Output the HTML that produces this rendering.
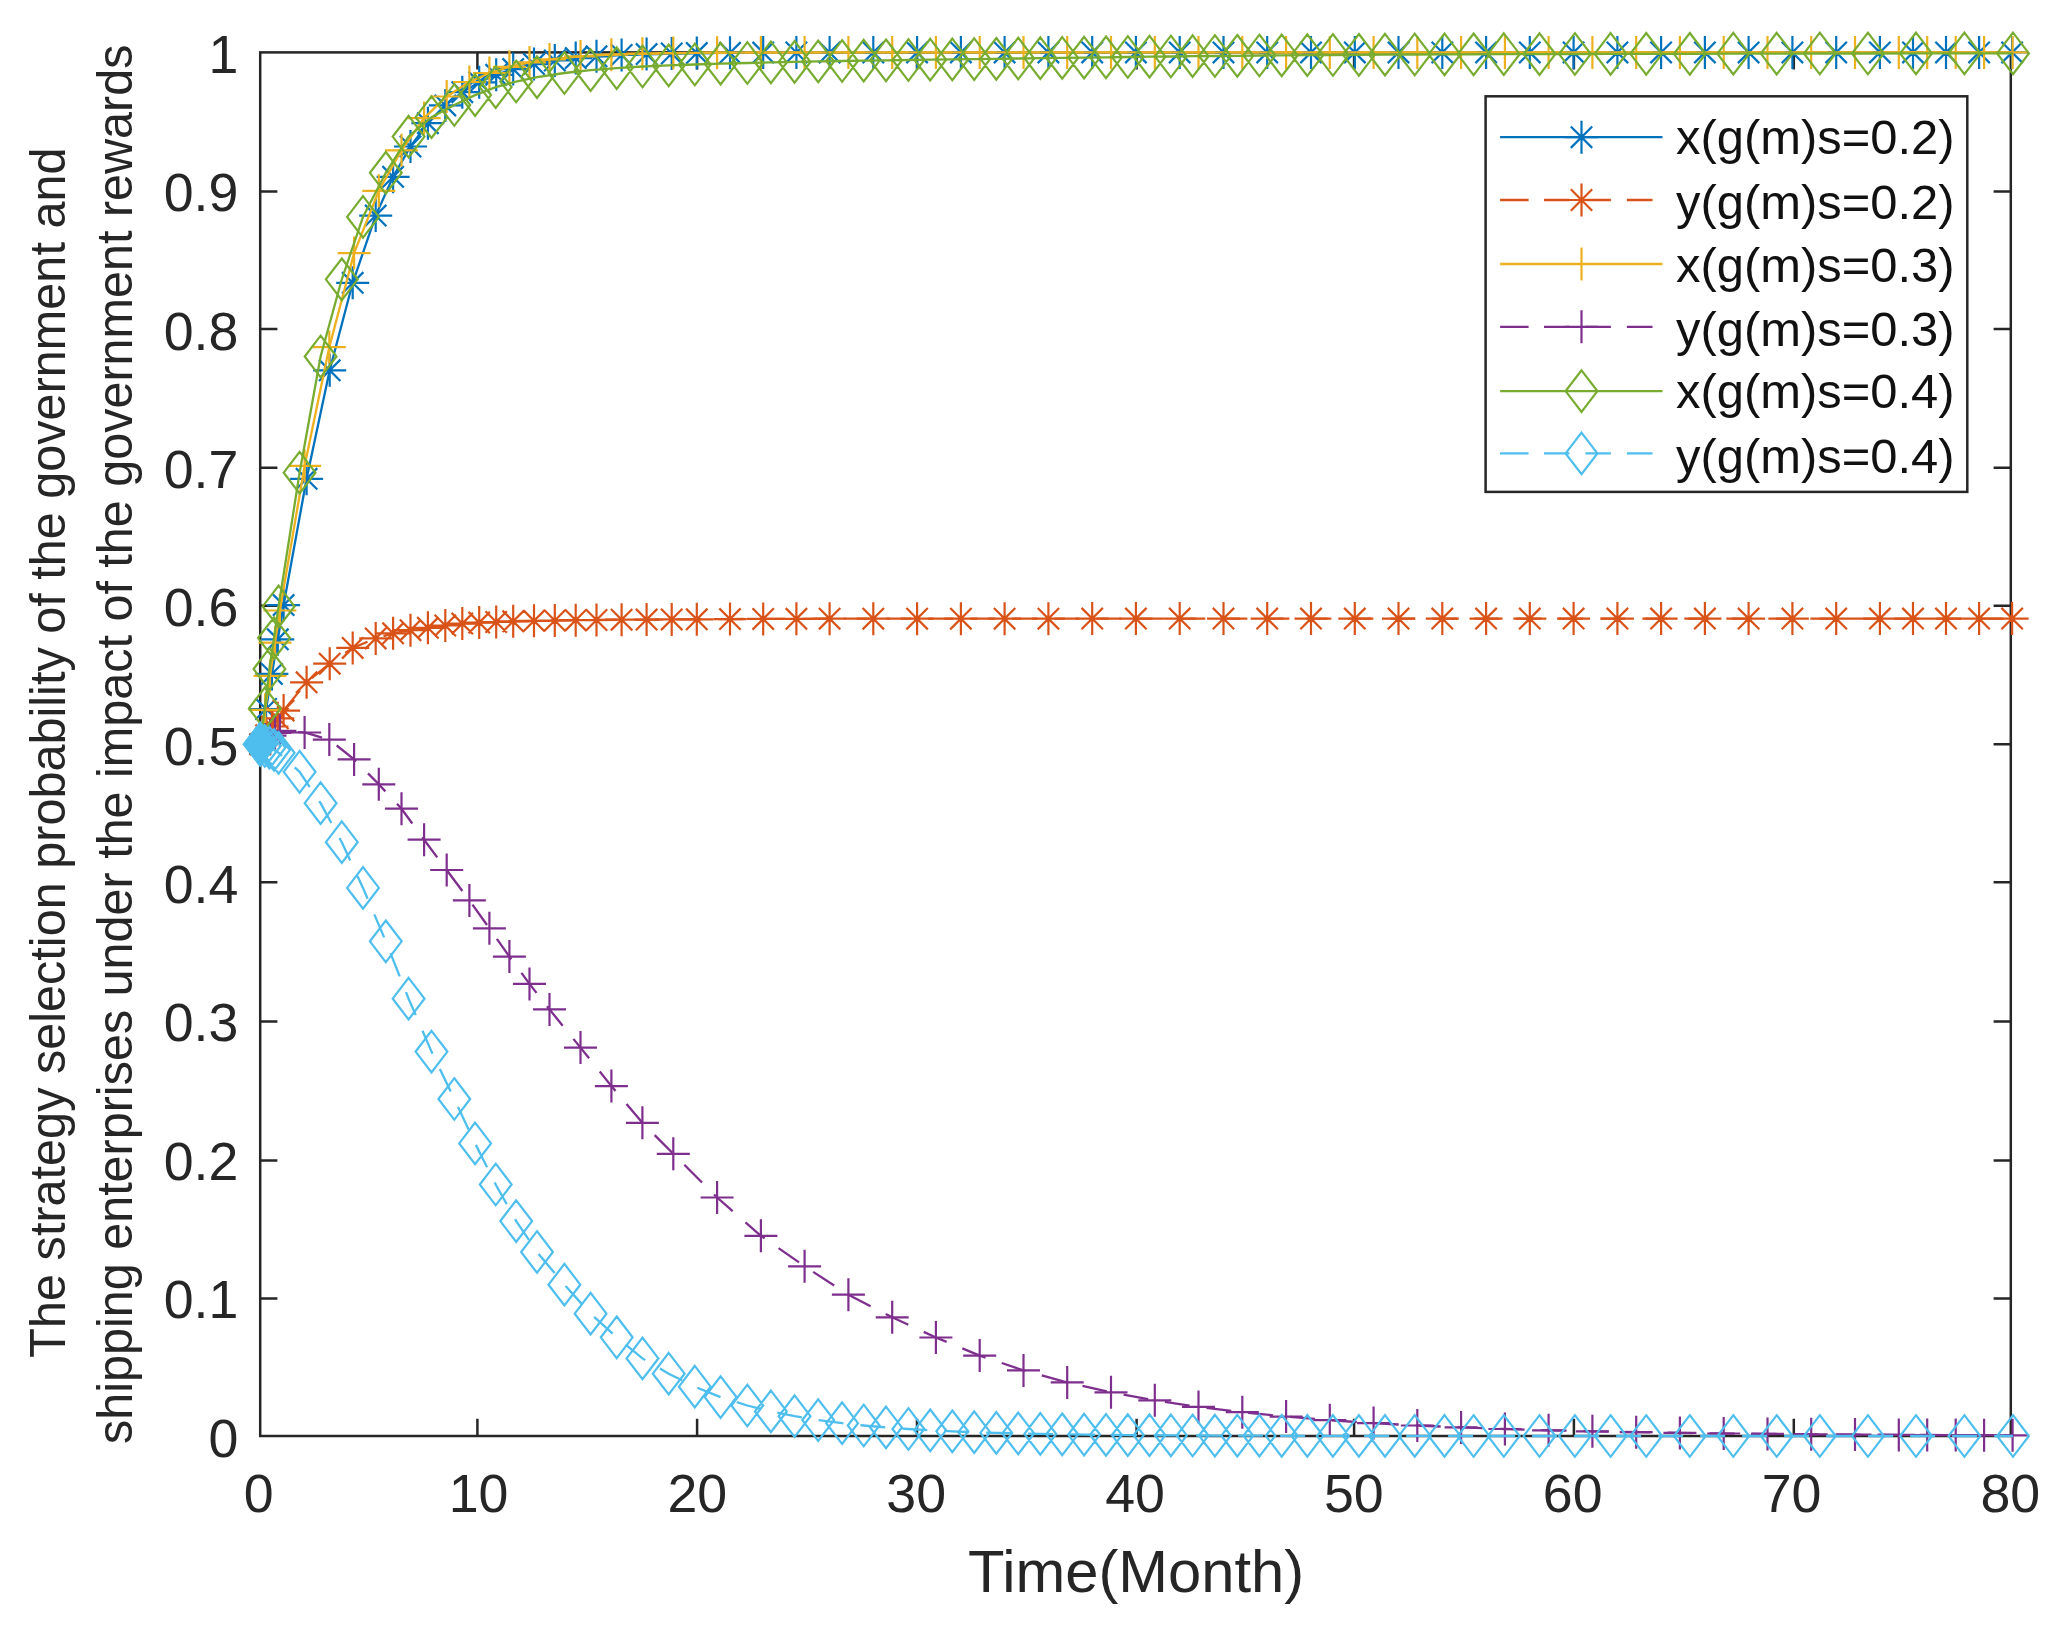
<!DOCTYPE html>
<html lang="en">
<head>
<meta charset="utf-8">
<title>Strategy selection probability under government rewards</title>
<style>
html,body{margin:0;padding:0;background:#ffffff;}
body{width:2052px;height:1631px;overflow:hidden;}
svg{display:block;}
</style>
</head>
<body>
<svg width="2052" height="1631" viewBox="0 0 2052 1631" font-family="'Liberation Sans', sans-serif">
<rect x="0" y="0" width="2052" height="1631" fill="#ffffff"/>
<g stroke="#262626" stroke-width="2.5" fill="none" stroke-linecap="butt">
<rect x="260.2" y="52.4" width="1750.6" height="1383.6"/>
<path d="M477.4 1436v-17.2M477.4 52.4v17.2M697.1 1436v-17.2M697.1 52.4v17.2M917 1436v-17.2M917 52.4v17.2M1136.6 1436v-17.2M1136.6 52.4v17.2M1354.1 1436v-17.2M1354.1 52.4v17.2M1573.9 1436v-17.2M1573.9 52.4v17.2M1793.8 1436v-17.2M1793.8 52.4v17.2M260.2 1298.4h17.2M2010.8 1298.4h-17.2M260.2 1160.6h17.2M2010.8 1160.6h-17.2M260.2 1021.6h17.2M2010.8 1021.6h-17.2M260.2 882.2h17.2M2010.8 882.2h-17.2M260.2 744.2h17.2M2010.8 744.2h-17.2M260.2 605.8h17.2M2010.8 605.8h-17.2M260.2 467.8h17.2M2010.8 467.8h-17.2M260.2 329h17.2M2010.8 329h-17.2M260.2 191.4h17.2M2010.8 191.4h-17.2"/>
</g>
<g fill="#262626" font-size="53.7">
<g text-anchor="middle">
<text x="258.7" y="1512">0</text>
<text x="478.5" y="1512">10</text>
<text x="697.3" y="1512">20</text>
<text x="916.2" y="1512">30</text>
<text x="1135" y="1512">40</text>
<text x="1353.8" y="1512">50</text>
<text x="1572.7" y="1512">60</text>
<text x="1791.5" y="1512">70</text>
<text x="2010.3" y="1512">80</text>
</g>
<g text-anchor="end">
<text x="238.4" y="1456.5">0</text>
<text x="238.4" y="1318.1">0.1</text>
<text x="238.4" y="1179.8">0.2</text>
<text x="238.4" y="1041.4">0.3</text>
<text x="238.4" y="903.1">0.4</text>
<text x="238.4" y="764.7">0.5</text>
<text x="238.4" y="626.3">0.6</text>
<text x="238.4" y="488">0.7</text>
<text x="238.4" y="349.6">0.8</text>
<text x="238.4" y="211.3">0.9</text>
<text x="238.4" y="72.9">1</text>
</g>
</g>
<text transform="translate(1136 1592) scale(1.012 1)" font-size="59.0" fill="#262626" text-anchor="middle">Time(Month)</text>
<g font-size="50.0" fill="#262626" text-anchor="middle">
<text transform="translate(64.9 752.6) rotate(-90) scale(0.972 1)">The strategy selection probability of the government and</text>
<text transform="translate(132 744.3) rotate(-90) scale(0.9705 1)">shipping enterprises under the impact of the government rewards</text>
</g>
<g stroke="#0072BD" fill="none" stroke-width="2.3">
<path d="M260.2 744.2L266.1 709L271.9 673.9L277.8 639.3L283.6 605.1L306.6 478.8L329.7 370.3L352.7 282.8L375.7 215.6L393.1 176.8L410.5 146.5L427.9 123.2L445.3 105.4L462.3 92.2L479.2 82.3L496.2 74.8L513.2 69.1L534 64.1L554.8 60.5L575.7 58.1L596.5 56.3L621.6 55L646.6 54.1L671.7 53.5L696.8 53.1L730 52.8L763.2 52.6L796.4 52.5L829.6 52.5L873.3 52.4L917.1 52.4L960.9 52.4L1004.6 52.4L1048.4 52.4L1092.2 52.4L1135.9 52.4L1179.7 52.4L1223.5 52.4L1267.2 52.4L1311 52.4L1354.8 52.4L1398.5 52.4L1442.3 52.4L1486.1 52.4L1529.8 52.4L1573.6 52.4L1617.4 52.4L1661.1 52.4L1704.9 52.4L1748.6 52.4L1792.4 52.4L1836.2 52.4L1879.9 52.4L1913 52.4L1946 52.4L1979.1 52.4L2012.1 52.4"/>
<path d="M243.7 744.2H276.7M260.2 727.7V760.7M249.5 733.5L270.9 754.9M249.5 754.9L270.9 733.5M249.6 709H282.6M266.1 692.5V725.5M255.4 698.3L276.8 719.7M255.4 719.7L276.8 698.3M255.4 673.9H288.4M271.9 657.4V690.4M261.2 663.2L282.6 684.6M261.2 684.6L282.6 663.2M261.3 639.3H294.3M277.8 622.8V655.8M267.1 628.6L288.5 650M267.1 650L288.5 628.6M267.1 605.1H300.1M283.6 588.6V621.6M272.9 594.4L294.3 615.8M272.9 615.8L294.3 594.4M290.1 478.8H323.1M306.6 462.3V495.3M295.9 468.1L317.3 489.5M295.9 489.5L317.3 468.1M313.2 370.3H346.2M329.7 353.8V386.8M319 359.6L340.4 381M319 381L340.4 359.6M336.2 282.8H369.2M352.7 266.3V299.3M342 272.1L363.4 293.5M342 293.5L363.4 272.1M359.2 215.6H392.2M375.7 199.1V232.1M365 204.9L386.4 226.3M365 226.3L386.4 204.9M376.6 176.8H409.6M393.1 160.3V193.3M382.4 166.1L403.8 187.5M382.4 187.5L403.8 166.1M394 146.5H427M410.5 130V163M399.8 135.8L421.2 157.2M399.8 157.2L421.2 135.8M411.4 123.2H444.4M427.9 106.7V139.7M417.2 112.5L438.6 133.9M417.2 133.9L438.6 112.5M428.8 105.4H461.8M445.3 88.9V121.9M434.6 94.7L456 116.1M434.6 116.1L456 94.7M445.8 92.2H478.8M462.3 75.7V108.7M451.6 81.5L473 102.9M451.6 102.9L473 81.5M462.7 82.3H495.7M479.2 65.8V98.8M468.5 71.6L489.9 93M468.5 93L489.9 71.6M479.7 74.8H512.7M496.2 58.3V91.3M485.5 64.1L506.9 85.5M485.5 85.5L506.9 64.1M496.7 69.1H529.7M513.2 52.6V85.6M502.5 58.4L523.9 79.8M502.5 79.8L523.9 58.4M517.5 64.1H550.5M534 47.6V80.6M523.3 53.4L544.7 74.8M523.3 74.8L544.7 53.4M538.3 60.5H571.3M554.8 44V77M544.1 49.8L565.5 71.2M544.1 71.2L565.5 49.8M559.2 58.1H592.2M575.7 41.6V74.6M565 47.4L586.4 68.8M565 68.8L586.4 47.4M580 56.3H613M596.5 39.8V72.8M585.8 45.6L607.2 67M585.8 67L607.2 45.6M605.1 55H638.1M621.6 38.5V71.5M610.9 44.3L632.3 65.7M610.9 65.7L632.3 44.3M630.1 54.1H663.1M646.6 37.6V70.6M635.9 43.4L657.3 64.8M635.9 64.8L657.3 43.4M655.2 53.5H688.2M671.7 37V70M661 42.8L682.4 64.2M661 64.2L682.4 42.8M680.3 53.1H713.3M696.8 36.6V69.6M686.1 42.4L707.5 63.8M686.1 63.8L707.5 42.4M713.5 52.8H746.5M730 36.3V69.3M719.3 42.1L740.7 63.5M719.3 63.5L740.7 42.1M746.7 52.6H779.7M763.2 36.1V69.1M752.5 41.9L773.9 63.3M752.5 63.3L773.9 41.9M779.9 52.5H812.9M796.4 36V69M785.7 41.8L807.1 63.2M785.7 63.2L807.1 41.8M813.1 52.5H846.1M829.6 36V69M818.9 41.8L840.3 63.2M818.9 63.2L840.3 41.8M856.8 52.4H889.8M873.3 35.9V68.9M862.6 41.7L884 63.1M862.6 63.1L884 41.7M900.6 52.4H933.6M917.1 35.9V68.9M906.4 41.7L927.8 63.1M906.4 63.1L927.8 41.7M944.4 52.4H977.4M960.9 35.9V68.9M950.2 41.7L971.6 63.1M950.2 63.1L971.6 41.7M988.1 52.4H1021.1M1004.6 35.9V68.9M993.9 41.7L1015.3 63.1M993.9 63.1L1015.3 41.7M1031.9 52.4H1064.9M1048.4 35.9V68.9M1037.7 41.7L1059.1 63.1M1037.7 63.1L1059.1 41.7M1075.7 52.4H1108.7M1092.2 35.9V68.9M1081.5 41.7L1102.9 63.1M1081.5 63.1L1102.9 41.7M1119.4 52.4H1152.4M1135.9 35.9V68.9M1125.2 41.7L1146.6 63.1M1125.2 63.1L1146.6 41.7M1163.2 52.4H1196.2M1179.7 35.9V68.9M1169 41.7L1190.4 63.1M1169 63.1L1190.4 41.7M1207 52.4H1240M1223.5 35.9V68.9M1212.8 41.7L1234.2 63.1M1212.8 63.1L1234.2 41.7M1250.7 52.4H1283.7M1267.2 35.9V68.9M1256.5 41.7L1277.9 63.1M1256.5 63.1L1277.9 41.7M1294.5 52.4H1327.5M1311 35.9V68.9M1300.3 41.7L1321.7 63.1M1300.3 63.1L1321.7 41.7M1338.3 52.4H1371.3M1354.8 35.9V68.9M1344.1 41.7L1365.5 63.1M1344.1 63.1L1365.5 41.7M1382 52.4H1415M1398.5 35.9V68.9M1387.8 41.7L1409.2 63.1M1387.8 63.1L1409.2 41.7M1425.8 52.4H1458.8M1442.3 35.9V68.9M1431.6 41.7L1453 63.1M1431.6 63.1L1453 41.7M1469.6 52.4H1502.6M1486.1 35.9V68.9M1475.4 41.7L1496.8 63.1M1475.4 63.1L1496.8 41.7M1513.3 52.4H1546.3M1529.8 35.9V68.9M1519.1 41.7L1540.5 63.1M1519.1 63.1L1540.5 41.7M1557.1 52.4H1590.1M1573.6 35.9V68.9M1562.9 41.7L1584.3 63.1M1562.9 63.1L1584.3 41.7M1600.9 52.4H1633.9M1617.4 35.9V68.9M1606.7 41.7L1628.1 63.1M1606.7 63.1L1628.1 41.7M1644.6 52.4H1677.6M1661.1 35.9V68.9M1650.4 41.7L1671.8 63.1M1650.4 63.1L1671.8 41.7M1688.4 52.4H1721.4M1704.9 35.9V68.9M1694.2 41.7L1715.6 63.1M1694.2 63.1L1715.6 41.7M1732.1 52.4H1765.1M1748.6 35.9V68.9M1737.9 41.7L1759.3 63.1M1737.9 63.1L1759.3 41.7M1775.9 52.4H1808.9M1792.4 35.9V68.9M1781.7 41.7L1803.1 63.1M1781.7 63.1L1803.1 41.7M1819.7 52.4H1852.7M1836.2 35.9V68.9M1825.5 41.7L1846.9 63.1M1825.5 63.1L1846.9 41.7M1863.4 52.4H1896.4M1879.9 35.9V68.9M1869.2 41.7L1890.6 63.1M1869.2 63.1L1890.6 41.7M1896.5 52.4H1929.5M1913 35.9V68.9M1902.3 41.7L1923.7 63.1M1902.3 63.1L1923.7 41.7M1929.5 52.4H1962.5M1946 35.9V68.9M1935.3 41.7L1956.7 63.1M1935.3 63.1L1956.7 41.7M1962.6 52.4H1995.6M1979.1 35.9V68.9M1968.4 41.7L1989.8 63.1M1968.4 63.1L1989.8 41.7M1995.6 52.4H2028.6M2012.1 35.9V68.9M2001.4 41.7L2022.8 63.1M2001.4 63.1L2022.8 41.7" stroke-width="2.2" stroke-linejoin="miter"/>
</g>
<g stroke="#D95319" fill="none" stroke-width="2.3">
<path d="M260.2 744.2L266.1 735.3L271.9 726.5L277.8 718.3L283.6 710.6L306.6 682.3L329.7 663.7L352.7 647.9L375.7 638.4L393.1 633.3L410.5 630.2L427.9 627.8L445.3 625.5L462.3 623.6L479.2 622.6L496.2 622L513.2 621.3L534 620.8L554.8 620.5L575.7 620.2L596.5 620L621.6 619.7L646.6 619.6L671.7 619.4L696.8 619.3L730 619.1L763.2 618.9L796.4 618.8L829.6 618.7L873.3 618.7L917.1 618.7L960.9 618.7L1004.6 618.7L1048.4 618.7L1092.2 618.6L1135.9 618.6L1179.7 618.6L1223.5 618.6L1267.2 618.6L1311 618.6L1354.8 618.6L1398.5 618.6L1442.3 618.6L1486.1 618.6L1529.8 618.6L1573.6 618.6L1617.4 618.6L1661.1 618.6L1704.9 618.6L1748.6 618.6L1792.4 618.6L1836.2 618.6L1879.9 618.6L1913 618.6L1946 618.6L1979.1 618.6L2012.1 618.6" stroke-dasharray="25 17"/>
<path d="M243.7 744.2H276.7M260.2 727.7V760.7M249.5 733.5L270.9 754.9M249.5 754.9L270.9 733.5M249.6 735.3H282.6M266.1 718.8V751.8M255.4 724.6L276.8 746M255.4 746L276.8 724.6M255.4 726.5H288.4M271.9 710V743M261.2 715.8L282.6 737.2M261.2 737.2L282.6 715.8M261.3 718.3H294.3M277.8 701.8V734.8M267.1 707.6L288.5 729M267.1 729L288.5 707.6M267.1 710.6H300.1M283.6 694.1V727.1M272.9 699.9L294.3 721.3M272.9 721.3L294.3 699.9M290.1 682.3H323.1M306.6 665.8V698.8M295.9 671.6L317.3 693M295.9 693L317.3 671.6M313.2 663.7H346.2M329.7 647.2V680.2M319 653L340.4 674.4M319 674.4L340.4 653M336.2 647.9H369.2M352.7 631.4V664.4M342 637.2L363.4 658.6M342 658.6L363.4 637.2M359.2 638.4H392.2M375.7 621.9V654.9M365 627.7L386.4 649.1M365 649.1L386.4 627.7M376.6 633.3H409.6M393.1 616.8V649.8M382.4 622.6L403.8 644M382.4 644L403.8 622.6M394 630.2H427M410.5 613.7V646.7M399.8 619.5L421.2 640.9M399.8 640.9L421.2 619.5M411.4 627.8H444.4M427.9 611.3V644.3M417.2 617.1L438.6 638.5M417.2 638.5L438.6 617.1M428.8 625.5H461.8M445.3 609V642M434.6 614.8L456 636.2M434.6 636.2L456 614.8M445.8 623.6H478.8M462.3 607.1V640.1M451.6 612.9L473 634.3M451.6 634.3L473 612.9M462.7 622.6H495.7M479.2 606.1V639.1M468.5 611.9L489.9 633.3M468.5 633.3L489.9 611.9M479.7 622H512.7M496.2 605.5V638.5M485.5 611.3L506.9 632.7M485.5 632.7L506.9 611.3M496.7 621.3H529.7M513.2 604.8V637.8M502.5 610.6L523.9 632M502.5 632L523.9 610.6M517.5 620.8H550.5M534 604.3V637.3M523.3 610.1L544.7 631.5M523.3 631.5L544.7 610.1M538.3 620.5H571.3M554.8 604V637M544.1 609.8L565.5 631.2M544.1 631.2L565.5 609.8M559.2 620.2H592.2M575.7 603.7V636.7M565 609.5L586.4 630.9M565 630.9L586.4 609.5M580 620H613M596.5 603.5V636.5M585.8 609.3L607.2 630.7M585.8 630.7L607.2 609.3M605.1 619.7H638.1M621.6 603.2V636.2M610.9 609L632.3 630.4M610.9 630.4L632.3 609M630.1 619.6H663.1M646.6 603.1V636.1M635.9 608.9L657.3 630.3M635.9 630.3L657.3 608.9M655.2 619.4H688.2M671.7 602.9V635.9M661 608.7L682.4 630.1M661 630.1L682.4 608.7M680.3 619.3H713.3M696.8 602.8V635.8M686.1 608.6L707.5 630M686.1 630L707.5 608.6M713.5 619.1H746.5M730 602.6V635.6M719.3 608.4L740.7 629.8M719.3 629.8L740.7 608.4M746.7 618.9H779.7M763.2 602.4V635.4M752.5 608.2L773.9 629.6M752.5 629.6L773.9 608.2M779.9 618.8H812.9M796.4 602.3V635.3M785.7 608.1L807.1 629.5M785.7 629.5L807.1 608.1M813.1 618.7H846.1M829.6 602.2V635.2M818.9 608L840.3 629.4M818.9 629.4L840.3 608M856.8 618.7H889.8M873.3 602.2V635.2M862.6 608L884 629.4M862.6 629.4L884 608M900.6 618.7H933.6M917.1 602.2V635.2M906.4 608L927.8 629.4M906.4 629.4L927.8 608M944.4 618.7H977.4M960.9 602.2V635.2M950.2 608L971.6 629.4M950.2 629.4L971.6 608M988.1 618.7H1021.1M1004.6 602.2V635.2M993.9 608L1015.3 629.4M993.9 629.4L1015.3 608M1031.9 618.7H1064.9M1048.4 602.2V635.2M1037.7 608L1059.1 629.4M1037.7 629.4L1059.1 608M1075.7 618.6H1108.7M1092.2 602.1V635.1M1081.5 607.9L1102.9 629.3M1081.5 629.3L1102.9 607.9M1119.4 618.6H1152.4M1135.9 602.1V635.1M1125.2 607.9L1146.6 629.3M1125.2 629.3L1146.6 607.9M1163.2 618.6H1196.2M1179.7 602.1V635.1M1169 607.9L1190.4 629.3M1169 629.3L1190.4 607.9M1207 618.6H1240M1223.5 602.1V635.1M1212.8 607.9L1234.2 629.3M1212.8 629.3L1234.2 607.9M1250.7 618.6H1283.7M1267.2 602.1V635.1M1256.5 607.9L1277.9 629.3M1256.5 629.3L1277.9 607.9M1294.5 618.6H1327.5M1311 602.1V635.1M1300.3 607.9L1321.7 629.3M1300.3 629.3L1321.7 607.9M1338.3 618.6H1371.3M1354.8 602.1V635.1M1344.1 607.9L1365.5 629.3M1344.1 629.3L1365.5 607.9M1382 618.6H1415M1398.5 602.1V635.1M1387.8 607.9L1409.2 629.3M1387.8 629.3L1409.2 607.9M1425.8 618.6H1458.8M1442.3 602.1V635.1M1431.6 607.9L1453 629.3M1431.6 629.3L1453 607.9M1469.6 618.6H1502.6M1486.1 602.1V635.1M1475.4 607.9L1496.8 629.3M1475.4 629.3L1496.8 607.9M1513.3 618.6H1546.3M1529.8 602.1V635.1M1519.1 607.9L1540.5 629.3M1519.1 629.3L1540.5 607.9M1557.1 618.6H1590.1M1573.6 602.1V635.1M1562.9 607.9L1584.3 629.3M1562.9 629.3L1584.3 607.9M1600.9 618.6H1633.9M1617.4 602.1V635.1M1606.7 607.9L1628.1 629.3M1606.7 629.3L1628.1 607.9M1644.6 618.6H1677.6M1661.1 602.1V635.1M1650.4 607.9L1671.8 629.3M1650.4 629.3L1671.8 607.9M1688.4 618.6H1721.4M1704.9 602.1V635.1M1694.2 607.9L1715.6 629.3M1694.2 629.3L1715.6 607.9M1732.1 618.6H1765.1M1748.6 602.1V635.1M1737.9 607.9L1759.3 629.3M1737.9 629.3L1759.3 607.9M1775.9 618.6H1808.9M1792.4 602.1V635.1M1781.7 607.9L1803.1 629.3M1781.7 629.3L1803.1 607.9M1819.7 618.6H1852.7M1836.2 602.1V635.1M1825.5 607.9L1846.9 629.3M1825.5 629.3L1846.9 607.9M1863.4 618.6H1896.4M1879.9 602.1V635.1M1869.2 607.9L1890.6 629.3M1869.2 629.3L1890.6 607.9M1896.5 618.6H1929.5M1913 602.1V635.1M1902.3 607.9L1923.7 629.3M1902.3 629.3L1923.7 607.9M1929.5 618.6H1962.5M1946 602.1V635.1M1935.3 607.9L1956.7 629.3M1935.3 629.3L1956.7 607.9M1962.6 618.6H1995.6M1979.1 602.1V635.1M1968.4 607.9L1989.8 629.3M1968.4 629.3L1989.8 607.9M1995.6 618.6H2028.6M2012.1 602.1V635.1M2001.4 607.9L2022.8 629.3M2001.4 629.3L2022.8 607.9" stroke-width="2.2" stroke-linejoin="miter"/>
</g>
<g stroke="#EDB120" fill="none" stroke-width="2.3">
<path d="M260.2 744.2L265.1 709.8L270 675.9L275 642.7L279.9 610.5L304.6 465.9L329.3 347.1L354.1 253.1L378.8 190.8L401.5 150.3L424.1 118.1L446.7 96.5L469.4 82L489.4 73L509.4 66.8L529.5 62.4L549.5 59.4L580.5 56.4L611.4 54.7L642.4 53.7L673.3 53.1L717.1 52.7L760.9 52.5L804.6 52.5L848.4 52.4L892.2 52.4L935.9 52.4L979.7 52.4L1023.5 52.4L1067.2 52.4L1111 52.4L1154.8 52.4L1198.5 52.4L1242.3 52.4L1286.1 52.4L1329.8 52.4L1373.6 52.4L1417.3 52.4L1461.1 52.4L1504.9 52.4L1548.6 52.4L1592.4 52.4L1636.2 52.4L1679.9 52.4L1723.7 52.4L1767.5 52.4L1811.2 52.4L1855 52.4L1898.8 52.4L1927.2 52.4L1955.7 52.4L1984.1 52.4L2012.6 52.4"/>
<path d="M243.7 744.2H276.7M260.2 727.7V760.7M248.6 709.8H281.6M265.1 693.3V726.3M253.5 675.9H286.5M270 659.4V692.4M258.5 642.7H291.5M275 626.2V659.2M263.4 610.5H296.4M279.9 594V627M288.1 465.9H321.1M304.6 449.4V482.4M312.8 347.1H345.8M329.3 330.6V363.6M337.6 253.1H370.6M354.1 236.6V269.6M362.3 190.8H395.3M378.8 174.3V207.3M385 150.3H418M401.5 133.8V166.8M407.6 118.1H440.6M424.1 101.6V134.6M430.2 96.5H463.2M446.7 80V113M452.9 82H485.9M469.4 65.5V98.5M472.9 73H505.9M489.4 56.5V89.5M492.9 66.8H525.9M509.4 50.3V83.3M513 62.4H546M529.5 45.9V78.9M533 59.4H566M549.5 42.9V75.9M564 56.4H597M580.5 39.9V72.9M594.9 54.7H627.9M611.4 38.2V71.2M625.9 53.7H658.9M642.4 37.2V70.2M656.8 53.1H689.8M673.3 36.6V69.6M700.6 52.7H733.6M717.1 36.2V69.2M744.4 52.5H777.4M760.9 36V69M788.1 52.5H821.1M804.6 36V69M831.9 52.4H864.9M848.4 35.9V68.9M875.7 52.4H908.7M892.2 35.9V68.9M919.4 52.4H952.4M935.9 35.9V68.9M963.2 52.4H996.2M979.7 35.9V68.9M1007 52.4H1040M1023.5 35.9V68.9M1050.7 52.4H1083.7M1067.2 35.9V68.9M1094.5 52.4H1127.5M1111 35.9V68.9M1138.3 52.4H1171.3M1154.8 35.9V68.9M1182 52.4H1215M1198.5 35.9V68.9M1225.8 52.4H1258.8M1242.3 35.9V68.9M1269.6 52.4H1302.6M1286.1 35.9V68.9M1313.3 52.4H1346.3M1329.8 35.9V68.9M1357.1 52.4H1390.1M1373.6 35.9V68.9M1400.8 52.4H1433.8M1417.3 35.9V68.9M1444.6 52.4H1477.6M1461.1 35.9V68.9M1488.4 52.4H1521.4M1504.9 35.9V68.9M1532.1 52.4H1565.1M1548.6 35.9V68.9M1575.9 52.4H1608.9M1592.4 35.9V68.9M1619.7 52.4H1652.7M1636.2 35.9V68.9M1663.4 52.4H1696.4M1679.9 35.9V68.9M1707.2 52.4H1740.2M1723.7 35.9V68.9M1751 52.4H1784M1767.5 35.9V68.9M1794.7 52.4H1827.7M1811.2 35.9V68.9M1838.5 52.4H1871.5M1855 35.9V68.9M1882.3 52.4H1915.3M1898.8 35.9V68.9M1910.7 52.4H1943.7M1927.2 35.9V68.9M1939.2 52.4H1972.2M1955.7 35.9V68.9M1967.6 52.4H2000.6M1984.1 35.9V68.9M1996.1 52.4H2029.1M2012.6 35.9V68.9" stroke-width="2.2" stroke-linejoin="miter"/>
</g>
<g stroke="#7E2F8E" fill="none" stroke-width="2.3">
<path d="M260.2 744.2L265.1 739.5L270 735.6L275 732.9L279.9 730.8L304.6 732.5L329.3 739.6L354.1 759.4L378.8 784.3L401.5 808.7L424.1 839.7L446.7 870L469.4 900.4L489.4 928.3L509.4 956.6L529.5 983.9L549.5 1009.4L580.5 1047.6L611.4 1086.1L642.4 1122.8L673.3 1153.8L717.1 1197.5L760.9 1235.8L804.6 1266.3L848.4 1294.7L892.2 1317.3L935.9 1337.5L979.7 1355.6L1023.5 1370.4L1067.2 1382.4L1111 1392.3L1154.8 1400.3L1198.5 1406.9L1242.3 1412.2L1286.1 1416.6L1329.8 1420.2L1373.6 1423.1L1417.3 1425.5L1461.1 1427.4L1504.9 1429L1548.6 1430.3L1592.4 1431.3L1636.2 1432.2L1679.9 1432.9L1723.7 1433.5L1767.5 1433.9L1811.2 1434.3L1855 1434.6L1898.8 1434.9L1927.2 1435L1955.7 1435.1L1984.1 1435.2L2012.6 1435.3" stroke-dasharray="25 17"/>
<path d="M243.7 744.2H276.7M260.2 727.7V760.7M248.6 739.5H281.6M265.1 723V756M253.5 735.6H286.5M270 719.1V752.1M258.5 732.9H291.5M275 716.4V749.4M263.4 730.8H296.4M279.9 714.3V747.3M288.1 732.5H321.1M304.6 716V749M312.8 739.6H345.8M329.3 723.1V756.1M337.6 759.4H370.6M354.1 742.9V775.9M362.3 784.3H395.3M378.8 767.8V800.8M385 808.7H418M401.5 792.2V825.2M407.6 839.7H440.6M424.1 823.2V856.2M430.2 870H463.2M446.7 853.5V886.5M452.9 900.4H485.9M469.4 883.9V916.9M472.9 928.3H505.9M489.4 911.8V944.8M492.9 956.6H525.9M509.4 940.1V973.1M513 983.9H546M529.5 967.4V1000.4M533 1009.4H566M549.5 992.9V1025.9M564 1047.6H597M580.5 1031.1V1064.1M594.9 1086.1H627.9M611.4 1069.6V1102.6M625.9 1122.8H658.9M642.4 1106.3V1139.3M656.8 1153.8H689.8M673.3 1137.3V1170.3M700.6 1197.5H733.6M717.1 1181V1214M744.4 1235.8H777.4M760.9 1219.3V1252.3M788.1 1266.3H821.1M804.6 1249.8V1282.8M831.9 1294.7H864.9M848.4 1278.2V1311.2M875.7 1317.3H908.7M892.2 1300.8V1333.8M919.4 1337.5H952.4M935.9 1321V1354M963.2 1355.6H996.2M979.7 1339.1V1372.1M1007 1370.4H1040M1023.5 1353.9V1386.9M1050.7 1382.4H1083.7M1067.2 1365.9V1398.9M1094.5 1392.3H1127.5M1111 1375.8V1408.8M1138.3 1400.3H1171.3M1154.8 1383.8V1416.8M1182 1406.9H1215M1198.5 1390.4V1423.4M1225.8 1412.2H1258.8M1242.3 1395.7V1428.7M1269.6 1416.6H1302.6M1286.1 1400.1V1433.1M1313.3 1420.2H1346.3M1329.8 1403.7V1436.7M1357.1 1423.1H1390.1M1373.6 1406.6V1439.6M1400.8 1425.5H1433.8M1417.3 1409V1442M1444.6 1427.4H1477.6M1461.1 1410.9V1443.9M1488.4 1429H1521.4M1504.9 1412.5V1445.5M1532.1 1430.3H1565.1M1548.6 1413.8V1446.8M1575.9 1431.3H1608.9M1592.4 1414.8V1447.8M1619.7 1432.2H1652.7M1636.2 1415.7V1448.7M1663.4 1432.9H1696.4M1679.9 1416.4V1449.4M1707.2 1433.5H1740.2M1723.7 1417V1450M1751 1433.9H1784M1767.5 1417.4V1450.4M1794.7 1434.3H1827.7M1811.2 1417.8V1450.8M1838.5 1434.6H1871.5M1855 1418.1V1451.1M1882.3 1434.9H1915.3M1898.8 1418.4V1451.4M1910.7 1435H1943.7M1927.2 1418.5V1451.5M1939.2 1435.1H1972.2M1955.7 1418.6V1451.6M1967.6 1435.2H2000.6M1984.1 1418.7V1451.7M1996.1 1435.3H2029.1M2012.6 1418.8V1451.8" stroke-width="2.2" stroke-linejoin="miter"/>
</g>
<g stroke="#77AC30" fill="none" stroke-width="2.3">
<path d="M260.2 744.2L264.8 708.4L269.4 669L274 638.1L278.6 606.4L299.6 472.7L320.6 356.5L341.8 279.3L363 216.9L385.8 172.8L408.6 136.6L431.5 117.2L454.3 105L475.1 95.1L495.7 87.1L516.2 81.5L537 77.2L564.4 73L590.6 70.2L616.7 68.1L642.5 66.5L668.7 65.4L694.8 64.5L720.6 63.7L747.3 63L770.9 62.4L794.6 61.9L818.2 61.4L842.1 61L863.7 60.6L886 60.3L908.4 60L930.2 59.7L952.3 59.4L974.2 59.1L996.3 58.8L1018.2 58.5L1040.3 58.2L1062.2 57.9L1084.1 57.6L1106 57.3L1127.8 57L1149.5 56.7L1170.9 56.5L1192.6 56.2L1214.9 56L1237.3 55.8L1259.4 55.5L1281.7 55.4L1307.3 55.2L1332.9 55L1358.9 54.8L1385 54.7L1414.7 54.5L1444.5 54.4L1473.6 54.3L1503.8 54.2L1539.5 54.1L1574.9 54L1610.6 53.9L1646.2 53.8L1689.8 53.8L1733.3 53.7L1776.7 53.6L1819.8 53.5L1867.9 53.5L1916 53.4L1964.4 53.4L2013 53.4"/>
<path d="M260.2 723.4L276.1 744.2L260.2 765L244.3 744.2ZM264.8 687.6L280.7 708.4L264.8 729.2L248.9 708.4ZM269.4 648.2L285.3 669L269.4 689.8L253.5 669ZM274 617.3L289.9 638.1L274 658.9L258.1 638.1ZM278.6 585.6L294.5 606.4L278.6 627.2L262.7 606.4ZM299.6 451.9L315.5 472.7L299.6 493.5L283.7 472.7ZM320.6 335.7L336.5 356.5L320.6 377.3L304.7 356.5ZM341.8 258.5L357.7 279.3L341.8 300.1L325.9 279.3ZM363 196.1L378.9 216.9L363 237.7L347.1 216.9ZM385.8 152L401.7 172.8L385.8 193.6L369.9 172.8ZM408.6 115.8L424.5 136.6L408.6 157.4L392.7 136.6ZM431.5 96.4L447.4 117.2L431.5 138L415.6 117.2ZM454.3 84.2L470.2 105L454.3 125.8L438.4 105ZM475.1 74.3L491 95.1L475.1 115.9L459.2 95.1ZM495.7 66.3L511.6 87.1L495.7 107.9L479.8 87.1ZM516.2 60.7L532.1 81.5L516.2 102.3L500.3 81.5ZM537 56.4L552.9 77.2L537 98L521.1 77.2ZM564.4 52.2L580.3 73L564.4 93.8L548.5 73ZM590.6 49.4L606.5 70.2L590.6 91L574.7 70.2ZM616.7 47.3L632.6 68.1L616.7 88.9L600.8 68.1ZM642.5 45.7L658.4 66.5L642.5 87.3L626.6 66.5ZM668.7 44.6L684.6 65.4L668.7 86.2L652.8 65.4ZM694.8 43.7L710.7 64.5L694.8 85.3L678.9 64.5ZM720.6 42.9L736.5 63.7L720.6 84.5L704.7 63.7ZM747.3 42.2L763.2 63L747.3 83.8L731.4 63ZM770.9 41.6L786.8 62.4L770.9 83.2L755 62.4ZM794.6 41.1L810.5 61.9L794.6 82.7L778.7 61.9ZM818.2 40.6L834.1 61.4L818.2 82.2L802.3 61.4ZM842.1 40.2L858 61L842.1 81.8L826.2 61ZM863.7 39.8L879.6 60.6L863.7 81.4L847.8 60.6ZM886 39.5L901.9 60.3L886 81.1L870.1 60.3ZM908.4 39.2L924.3 60L908.4 80.8L892.5 60ZM930.2 38.9L946.1 59.7L930.2 80.5L914.3 59.7ZM952.3 38.6L968.2 59.4L952.3 80.2L936.4 59.4ZM974.2 38.3L990.1 59.1L974.2 79.9L958.3 59.1ZM996.3 38L1012.2 58.8L996.3 79.6L980.4 58.8ZM1018.2 37.7L1034.1 58.5L1018.2 79.3L1002.3 58.5ZM1040.3 37.4L1056.2 58.2L1040.3 79L1024.4 58.2ZM1062.2 37.1L1078.1 57.9L1062.2 78.7L1046.3 57.9ZM1084.1 36.8L1100 57.6L1084.1 78.4L1068.2 57.6ZM1106 36.5L1121.9 57.3L1106 78.1L1090.1 57.3ZM1127.8 36.2L1143.7 57L1127.8 77.8L1111.9 57ZM1149.5 35.9L1165.4 56.7L1149.5 77.5L1133.6 56.7ZM1170.9 35.7L1186.8 56.5L1170.9 77.3L1155 56.5ZM1192.6 35.4L1208.5 56.2L1192.6 77L1176.7 56.2ZM1214.9 35.2L1230.8 56L1214.9 76.8L1199 56ZM1237.3 35L1253.2 55.8L1237.3 76.6L1221.4 55.8ZM1259.4 34.7L1275.3 55.5L1259.4 76.3L1243.5 55.5ZM1281.7 34.6L1297.6 55.4L1281.7 76.2L1265.8 55.4ZM1307.3 34.4L1323.2 55.2L1307.3 76L1291.4 55.2ZM1332.9 34.2L1348.8 55L1332.9 75.8L1317 55ZM1358.9 34L1374.8 54.8L1358.9 75.6L1343 54.8ZM1385 33.9L1400.9 54.7L1385 75.5L1369.1 54.7ZM1414.7 33.7L1430.6 54.5L1414.7 75.3L1398.8 54.5ZM1444.5 33.6L1460.4 54.4L1444.5 75.2L1428.6 54.4ZM1473.6 33.5L1489.5 54.3L1473.6 75.1L1457.7 54.3ZM1503.8 33.4L1519.7 54.2L1503.8 75L1487.9 54.2ZM1539.5 33.3L1555.4 54.1L1539.5 74.9L1523.6 54.1ZM1574.9 33.2L1590.8 54L1574.9 74.8L1559 54ZM1610.6 33.1L1626.5 53.9L1610.6 74.7L1594.7 53.9ZM1646.2 33L1662.1 53.8L1646.2 74.6L1630.3 53.8ZM1689.8 33L1705.7 53.8L1689.8 74.6L1673.9 53.8ZM1733.3 32.9L1749.2 53.7L1733.3 74.5L1717.4 53.7ZM1776.7 32.8L1792.6 53.6L1776.7 74.4L1760.8 53.6ZM1819.8 32.7L1835.7 53.5L1819.8 74.3L1803.9 53.5ZM1867.9 32.7L1883.8 53.5L1867.9 74.3L1852 53.5ZM1916 32.6L1931.9 53.4L1916 74.2L1900.1 53.4ZM1964.4 32.6L1980.3 53.4L1964.4 74.2L1948.5 53.4ZM2013 32.6L2028.9 53.4L2013 74.2L1997.1 53.4Z" stroke-width="2.2" stroke-linejoin="miter"/>
</g>
<g stroke="#4DBEEE" fill="none" stroke-width="2.3">
<path d="M260.2 744.2L264.8 745.9L269.4 747.7L274 750L278.6 752.8L299.6 771.8L320.6 803.2L341.8 842.2L363 887.9L385.8 941.3L408.6 998.7L431.5 1051.6L454.3 1099L475.1 1143.4L495.7 1184.5L516.2 1221.1L537 1252L564.4 1284.7L590.6 1313.7L616.7 1337.3L642.5 1358.4L668.7 1373.7L694.8 1386.7L720.6 1397.1L747.3 1405.5L770.9 1411.4L794.6 1416.2L818.2 1420.1L842.1 1423.2L863.7 1425.5L886 1427.4L908.4 1429L930.2 1430.3L952.3 1431.3L974.2 1432.2L996.3 1432.9L1018.2 1433.4L1040.3 1433.9L1062.2 1434.3L1084.1 1434.6L1106 1434.9L1127.8 1435.1L1149.5 1435.2L1170.9 1435.4L1192.6 1435.5L1214.9 1435.6L1237.3 1435.7L1259.4 1435.7L1281.7 1435.8L1307.3 1435.8L1332.9 1435.9L1358.9 1435.9L1385 1435.9L1414.7 1435.9L1444.5 1435.9L1473.6 1436L1503.8 1436L1539.5 1436L1574.9 1436L1610.6 1436L1646.2 1436L1689.8 1436L1733.3 1436L1776.7 1436L1819.8 1436L1867.9 1436L1916 1436L1964.4 1436L2013 1436" stroke-dasharray="25 17"/>
<path d="M260.2 723.4L276.1 744.2L260.2 765L244.3 744.2ZM264.8 725.1L280.7 745.9L264.8 766.7L248.9 745.9ZM269.4 726.9L285.3 747.7L269.4 768.5L253.5 747.7ZM274 729.2L289.9 750L274 770.8L258.1 750ZM278.6 732L294.5 752.8L278.6 773.6L262.7 752.8ZM299.6 751L315.5 771.8L299.6 792.6L283.7 771.8ZM320.6 782.4L336.5 803.2L320.6 824L304.7 803.2ZM341.8 821.4L357.7 842.2L341.8 863L325.9 842.2ZM363 867.1L378.9 887.9L363 908.7L347.1 887.9ZM385.8 920.5L401.7 941.3L385.8 962.1L369.9 941.3ZM408.6 977.9L424.5 998.7L408.6 1019.5L392.7 998.7ZM431.5 1030.8L447.4 1051.6L431.5 1072.4L415.6 1051.6ZM454.3 1078.2L470.2 1099L454.3 1119.8L438.4 1099ZM475.1 1122.6L491 1143.4L475.1 1164.2L459.2 1143.4ZM495.7 1163.7L511.6 1184.5L495.7 1205.3L479.8 1184.5ZM516.2 1200.3L532.1 1221.1L516.2 1241.9L500.3 1221.1ZM537 1231.2L552.9 1252L537 1272.8L521.1 1252ZM564.4 1263.9L580.3 1284.7L564.4 1305.5L548.5 1284.7ZM590.6 1292.9L606.5 1313.7L590.6 1334.5L574.7 1313.7ZM616.7 1316.5L632.6 1337.3L616.7 1358.1L600.8 1337.3ZM642.5 1337.6L658.4 1358.4L642.5 1379.2L626.6 1358.4ZM668.7 1352.9L684.6 1373.7L668.7 1394.5L652.8 1373.7ZM694.8 1365.9L710.7 1386.7L694.8 1407.5L678.9 1386.7ZM720.6 1376.3L736.5 1397.1L720.6 1417.9L704.7 1397.1ZM747.3 1384.7L763.2 1405.5L747.3 1426.3L731.4 1405.5ZM770.9 1390.6L786.8 1411.4L770.9 1432.2L755 1411.4ZM794.6 1395.4L810.5 1416.2L794.6 1437L778.7 1416.2ZM818.2 1399.3L834.1 1420.1L818.2 1440.9L802.3 1420.1ZM842.1 1402.4L858 1423.2L842.1 1444L826.2 1423.2ZM863.7 1404.7L879.6 1425.5L863.7 1446.3L847.8 1425.5ZM886 1406.6L901.9 1427.4L886 1448.2L870.1 1427.4ZM908.4 1408.2L924.3 1429L908.4 1449.8L892.5 1429ZM930.2 1409.5L946.1 1430.3L930.2 1451.1L914.3 1430.3ZM952.3 1410.5L968.2 1431.3L952.3 1452.1L936.4 1431.3ZM974.2 1411.4L990.1 1432.2L974.2 1453L958.3 1432.2ZM996.3 1412.1L1012.2 1432.9L996.3 1453.7L980.4 1432.9ZM1018.2 1412.6L1034.1 1433.4L1018.2 1454.2L1002.3 1433.4ZM1040.3 1413.1L1056.2 1433.9L1040.3 1454.7L1024.4 1433.9ZM1062.2 1413.5L1078.1 1434.3L1062.2 1455.1L1046.3 1434.3ZM1084.1 1413.8L1100 1434.6L1084.1 1455.4L1068.2 1434.6ZM1106 1414.1L1121.9 1434.9L1106 1455.7L1090.1 1434.9ZM1127.8 1414.3L1143.7 1435.1L1127.8 1455.9L1111.9 1435.1ZM1149.5 1414.4L1165.4 1435.2L1149.5 1456L1133.6 1435.2ZM1170.9 1414.6L1186.8 1435.4L1170.9 1456.2L1155 1435.4ZM1192.6 1414.7L1208.5 1435.5L1192.6 1456.3L1176.7 1435.5ZM1214.9 1414.8L1230.8 1435.6L1214.9 1456.4L1199 1435.6ZM1237.3 1414.9L1253.2 1435.7L1237.3 1456.5L1221.4 1435.7ZM1259.4 1414.9L1275.3 1435.7L1259.4 1456.5L1243.5 1435.7ZM1281.7 1415L1297.6 1435.8L1281.7 1456.6L1265.8 1435.8ZM1307.3 1415L1323.2 1435.8L1307.3 1456.6L1291.4 1435.8ZM1332.9 1415.1L1348.8 1435.9L1332.9 1456.7L1317 1435.9ZM1358.9 1415.1L1374.8 1435.9L1358.9 1456.7L1343 1435.9ZM1385 1415.1L1400.9 1435.9L1385 1456.7L1369.1 1435.9ZM1414.7 1415.1L1430.6 1435.9L1414.7 1456.7L1398.8 1435.9ZM1444.5 1415.1L1460.4 1435.9L1444.5 1456.7L1428.6 1435.9ZM1473.6 1415.2L1489.5 1436L1473.6 1456.8L1457.7 1436ZM1503.8 1415.2L1519.7 1436L1503.8 1456.8L1487.9 1436ZM1539.5 1415.2L1555.4 1436L1539.5 1456.8L1523.6 1436ZM1574.9 1415.2L1590.8 1436L1574.9 1456.8L1559 1436ZM1610.6 1415.2L1626.5 1436L1610.6 1456.8L1594.7 1436ZM1646.2 1415.2L1662.1 1436L1646.2 1456.8L1630.3 1436ZM1689.8 1415.2L1705.7 1436L1689.8 1456.8L1673.9 1436ZM1733.3 1415.2L1749.2 1436L1733.3 1456.8L1717.4 1436ZM1776.7 1415.2L1792.6 1436L1776.7 1456.8L1760.8 1436ZM1819.8 1415.2L1835.7 1436L1819.8 1456.8L1803.9 1436ZM1867.9 1415.2L1883.8 1436L1867.9 1456.8L1852 1436ZM1916 1415.2L1931.9 1436L1916 1456.8L1900.1 1436ZM1964.4 1415.2L1980.3 1436L1964.4 1456.8L1948.5 1436ZM2013 1415.2L2028.9 1436L2013 1456.8L1997.1 1436Z" stroke-width="2.2" stroke-linejoin="miter"/>
<path d="M260.2 723.4L276.1 744.2L260.2 765L244.3 744.2Z" fill="#4DBEEE" stroke-width="3" stroke-linejoin="miter"/>
</g>
<rect x="1485.6" y="96.3" width="481.7" height="395.6" fill="#ffffff" stroke="#262626" stroke-width="2.5"/>
<g stroke="#0072BD" fill="none" stroke-width="2.3">
<path d="M1500.1 137.2H1662.5"/>
<path d="M1565 137.2H1598M1581.5 120.7V153.7M1570.8 126.5L1592.2 147.9M1570.8 147.9L1592.2 126.5" stroke-width="2.2"/>
</g>
<text x="1676" y="154.3" font-size="48.9" fill="#111111">x(g(m)s=0.2)</text>
<g stroke="#D95319" fill="none" stroke-width="2.3">
<path d="M1500.1 200H1528.6M1544 200H1569.5M1585.4 200H1610.9M1626.9 200H1652.5"/>
<path d="M1565 200H1598M1581.5 183.5V216.5M1570.8 189.3L1592.2 210.7M1570.8 210.7L1592.2 189.3" stroke-width="2.2"/>
</g>
<text x="1676" y="219" font-size="48.9" fill="#111111">y(g(m)s=0.2)</text>
<g stroke="#EDB120" fill="none" stroke-width="2.3">
<path d="M1500.1 264H1662.5"/>
<path d="M1565 264H1598M1581.5 247.5V280.5" stroke-width="2.2"/>
</g>
<text x="1676" y="281.5" font-size="48.9" fill="#111111">x(g(m)s=0.3)</text>
<g stroke="#7E2F8E" fill="none" stroke-width="2.3">
<path d="M1500.1 326.8H1528.6M1544 326.8H1569.5M1585.4 326.8H1610.9M1626.9 326.8H1652.5"/>
<path d="M1565 326.8H1598M1581.5 310.3V343.3" stroke-width="2.2"/>
</g>
<text x="1676" y="346" font-size="48.9" fill="#111111">y(g(m)s=0.3)</text>
<g stroke="#77AC30" fill="none" stroke-width="2.3">
<path d="M1500.1 391.1H1662.5"/>
<path d="M1581.5 370.3L1597.4 391.1L1581.5 411.9L1565.6 391.1Z" stroke-width="2.2"/>
</g>
<text x="1676" y="407.8" font-size="48.9" fill="#111111">x(g(m)s=0.4)</text>
<g stroke="#4DBEEE" fill="none" stroke-width="2.3">
<path d="M1500.1 453.4H1528.6M1544 453.4H1569.5M1585.4 453.4H1610.9M1626.9 453.4H1652.5"/>
<path d="M1581.5 432.6L1597.4 453.4L1581.5 474.2L1565.6 453.4Z" stroke-width="2.2"/>
</g>
<text x="1676" y="472.5" font-size="48.9" fill="#111111">y(g(m)s=0.4)</text>
</svg>
</body>
</html>
